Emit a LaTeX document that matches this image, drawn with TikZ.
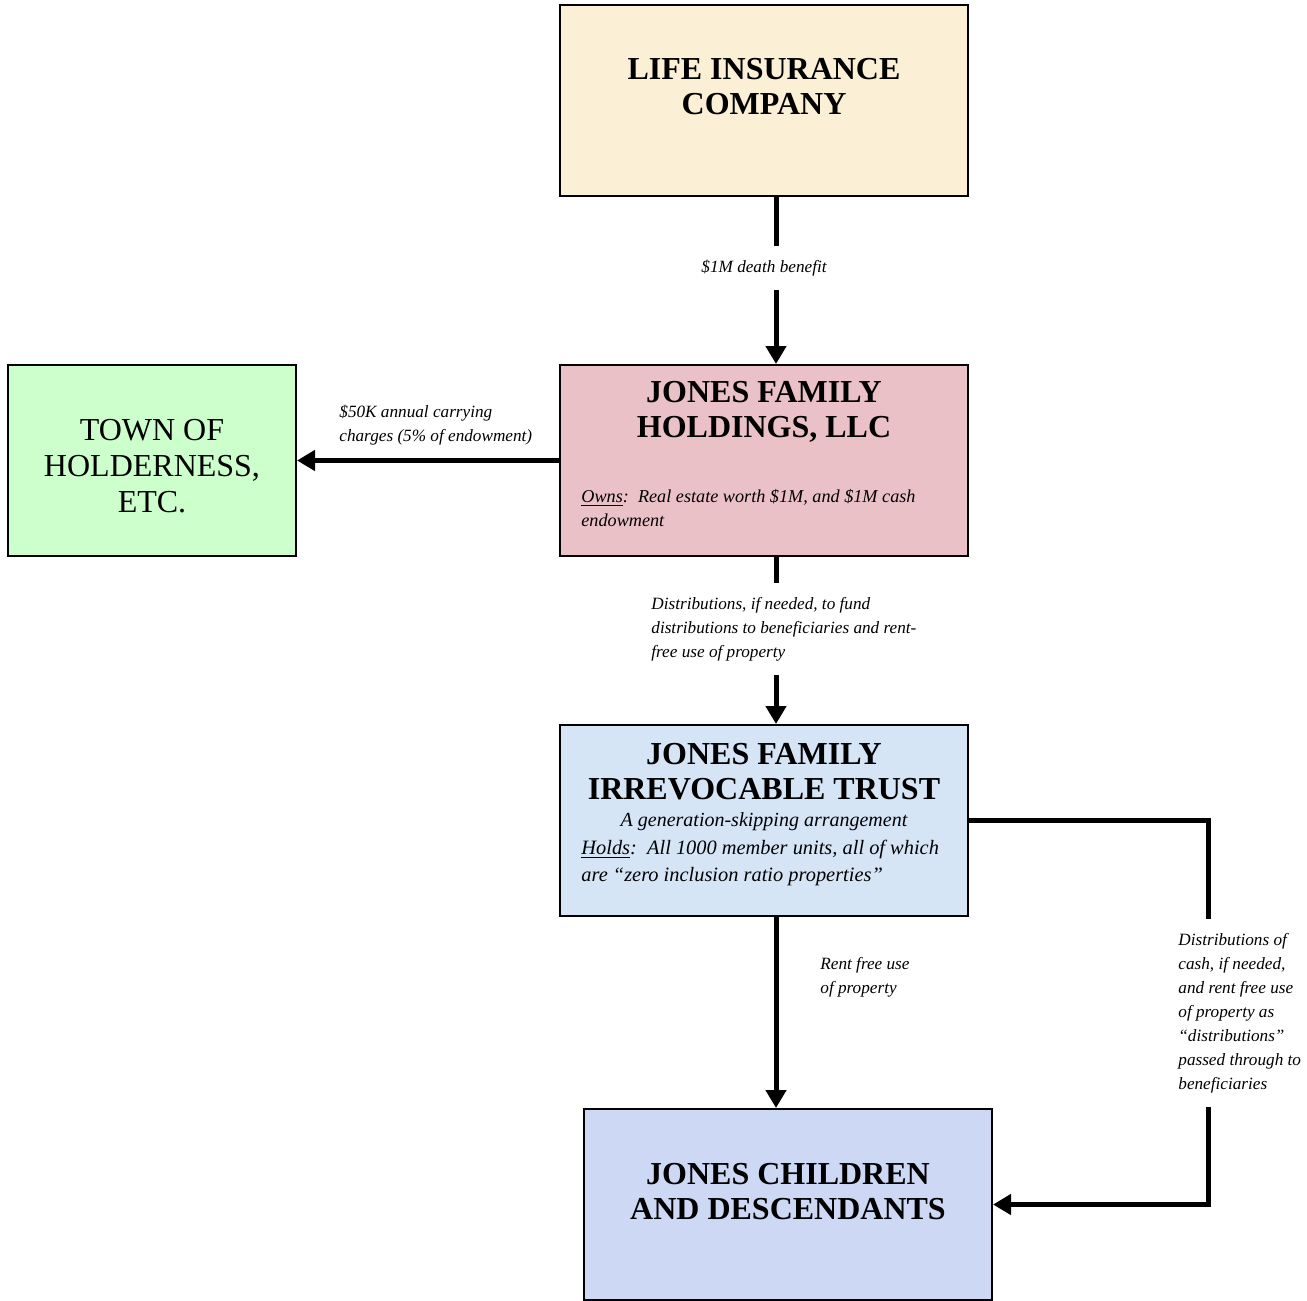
\documentclass[tikz,border=0pt]{standalone}
\usepackage{fontspec}
\setmainfont{Liberation Serif}
\usetikzlibrary{arrows.meta,positioning}

\definecolor{lifecol}{HTML}{FBF0D6}
\definecolor{llccol}{HTML}{E9C1C6}
\definecolor{towncol}{HTML}{CCFFCC}
\definecolor{trustcol}{HTML}{D6E5F6}
\definecolor{kidscol}{HTML}{CCD8F4}

\begin{document}
\begin{tikzpicture}[x=0.5pt,y=-0.5pt,
    box/.style={draw, line width=1pt, minimum width=204pt, minimum height=95.5pt, inner sep=0pt},
    title/.style={font=\bfseries\fontsize{16}{17.5}\selectfont, align=center, inner sep=0pt},
    plain/.style={font=\fontsize{16}{18}\selectfont, align=center, inner sep=0pt},
    body/.style={font=\itshape\fontsize{9.1}{12}\selectfont, align=left, inner sep=0pt},
    note/.style={font=\itshape\fontsize{8.6}{12}\selectfont, align=left, inner xsep=0pt, inner ysep=7pt},
    flow/.style={line width=2.5pt},
    flowarrow/.style={flow, -{Triangle[length=9pt,width=10pt]}}]

    % 0. Page size
    \useasboundingbox (0,0) rectangle (1307,1301);

    % 1. Boxes
    \node[box, fill=lifecol] (life) at (764,100.5) {};
    \node[box, fill=llccol] (llc) at (764,460.5) {};
    \node[box, fill=towncol, minimum width=144pt] (town) at (152,460.5) {};
    \node[box, fill=trustcol] (trust) at (764,820.5) {};
    \node[box, fill=kidscol] (kids) at (788,1204.5) {};

    % 2. Text inside the boxes
    \node[title] (lifet) at (764,87) {LIFE INSURANCE\\COMPANY};
    \node[title] (llct) at (764,412) {JONES FAMILY\\HOLDINGS, LLC};
    \node[body, anchor=west] (owns) at (581,508) {\underline{Owns}:\ \ Real estate worth \$1M, and \$1M cash\\endowment};
    \node[plain] (townt) at (152,466) {TOWN OF\\HOLDERNESS,\\ETC.};
    \node[title] (trustt) at (764,772) {JONES FAMILY\\IRREVOCABLE TRUST};
    \node[body, font=\itshape\fontsize{10}{13.5}\selectfont] (gst) at (764,822) {A generation-skipping arrangement};
    \node[body, font=\itshape\fontsize{10.2}{13.5}\selectfont, anchor=west] (holds) at (581,863)
        {\underline{Holds}:\ \ All 1000 member units, all of which\\are “zero inclusion ratio properties”};
    \node[title] (kidst) at (788,1192) {JONES CHILDREN\\AND DESCENDANTS};

    % 3. Labels on the connectors
    \node[note] (death) at (764,268) {\$1M death benefit};
    \node[note, anchor=west] (carry) at (339,425) {\$50K annual carrying\\charges (5\% of endowment)};
    \node[note, anchor=west] (fund) at (651,629) {Distributions, if needed, to fund\\distributions to beneficiaries and rent-\\free use of property};
    \node[note, anchor=west] (rent) at (820,977) {Rent free use\\of property};
    \node[note, anchor=west] (cash) at (1178,1013) {Distributions of\\cash, if needed,\\and rent free use\\of property as\\“distributions”\\passed through to\\beneficiaries};

    % 4. Connectors
    \coordinate (top) at ([xshift=6pt]life.south);
    \coordinate (mid) at ([xshift=6pt]trust.south);
    \coordinate (side) at (1208,0);

    \draw[flow] (top) -- (top |- death.north);
    \draw[flowarrow] (top |- death.south) -- (top |- llc.north);
    \draw[flowarrow] (llc.west) -- (town.east);
    \draw[flow] (top |- llc.south) -- (top |- fund.north);
    \draw[flowarrow] (top |- fund.south) -- (top |- trust.north);
    \draw[flowarrow] (mid) -- (mid |- kids.north);
    \draw[flow] (trust.east) -| (side |- cash.north);
    \draw[flowarrow] (side |- cash.south) |- (kids.east);

\end{tikzpicture}
\end{document}
